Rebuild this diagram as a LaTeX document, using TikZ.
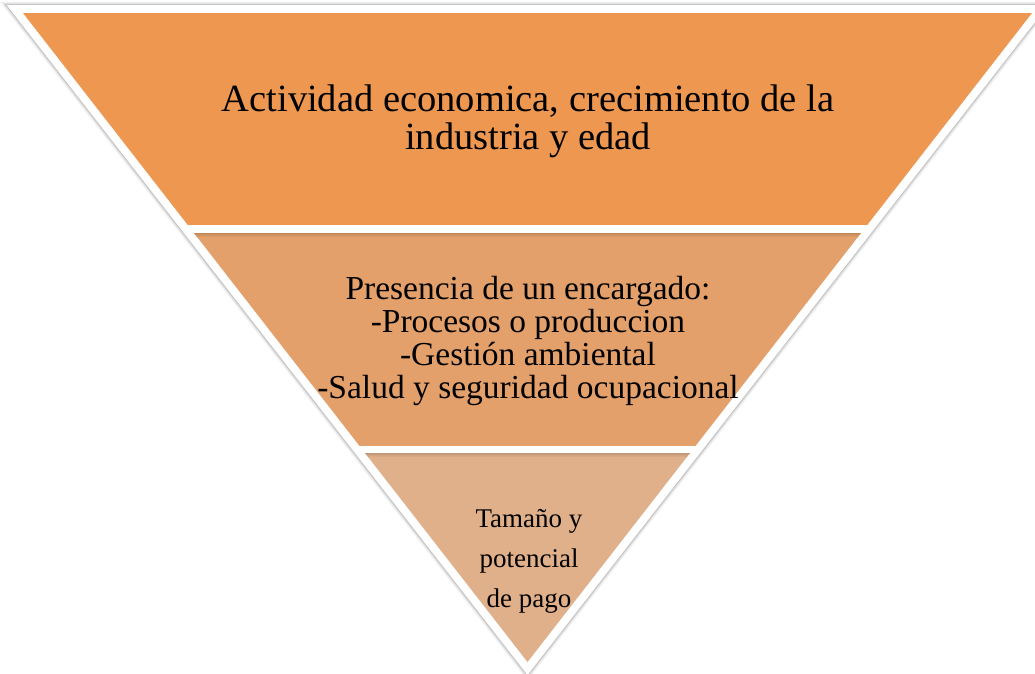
\documentclass[tikz,border=0pt]{standalone}
\usepackage{fontspec}
\setmainfont{Liberation Serif}
\definecolor{bandA}{RGB}{237,151,80}
\definecolor{bandB}{RGB}{227,160,106}
\definecolor{bandC}{RGB}{224,176,138}
\begin{document}
\begin{tikzpicture}[x=1pt,y=-1pt,
  txt/.style={align=center, text=black, inner sep=0pt},
  outline/.style={line join=miter}]
\useasboundingbox (0,0) rectangle (1035,673);
\coordinate (A) at (23,13);
\coordinate (B) at (1032,13);
\coordinate (C) at (527.5,662);
% soft shadow behind the white rim
\begin{scope}[shift={(0,4)}]
  \foreach \w/\o in {23/0.04,21/0.06,19/0.08,17.5/0.10}
    \draw[outline, line width=\w pt, black, opacity=\o] (A) -- (B) -- (C) -- cycle;
\end{scope}
% white rim
\draw[outline, line width=16pt, draw=white, fill=white] (A) -- (B) -- (C) -- cycle;
% bands
\begin{scope}
  \clip (A) -- (B) -- (C) -- cycle;
  \fill[bandA] (0,13) rectangle (1035,225);
  \fill[bandB] (0,233) rectangle (1035,446);
  \fill[bandC] (0,453) rectangle (1035,673);
  \shade[top color=bandB!85!black, bottom color=bandB] (0,233) rectangle (1035,237);
  \shade[top color=bandC!85!black, bottom color=bandC] (0,453) rectangle (1035,457);
\end{scope}
% texts
\node[txt, font=\fontsize{38.5}{38}\selectfont] (top) at (528,121)
  {Actividad economica, crecimiento de la\\industria y edad};
\node[txt, font=\fontsize{33.5}{33}\selectfont] (mid) at (528,340.7)
  {Presencia de un encargado:\\-Procesos o produccion\\-Gestión ambiental\\-Salud y seguridad ocupacional};
\node[txt, font=\fontsize{27}{40}\selectfont] (bot) at (529,561.7)
  {Tamaño y\\potencial\\de pago};
\end{tikzpicture}
\end{document}
